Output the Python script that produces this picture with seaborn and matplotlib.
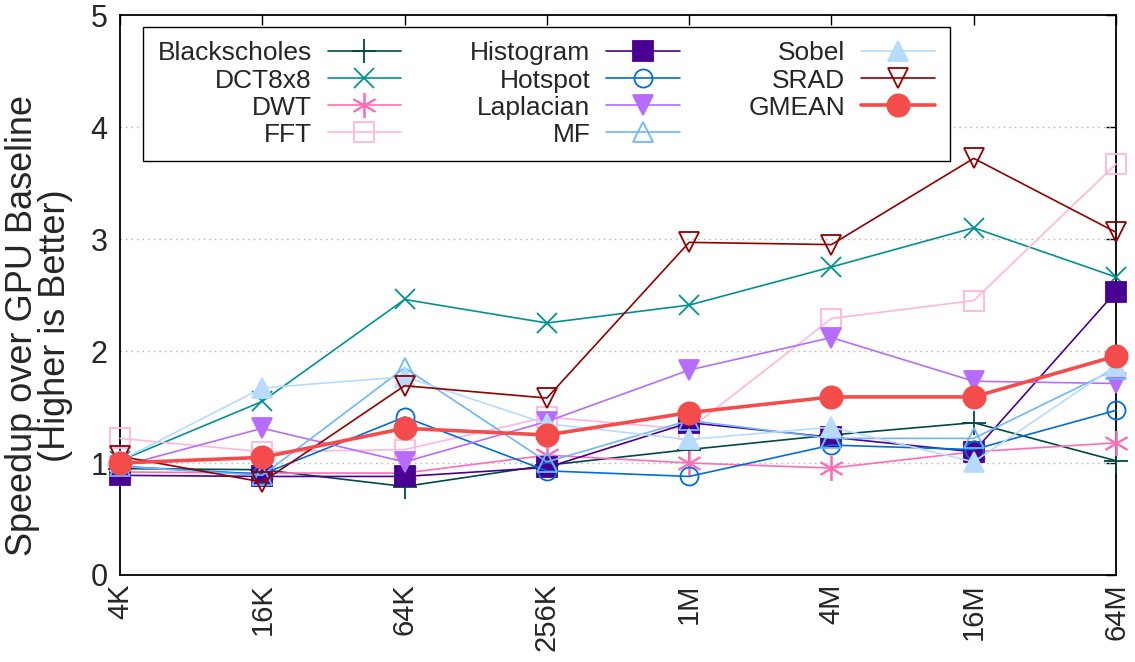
import numpy as np
import pandas as pd
import matplotlib
matplotlib.use("Agg")
import matplotlib.pyplot as plt
import seaborn as sns

# Input sizes on the x axis
sizes = ["4K", "16K", "64K", "256K", "1M", "4M", "16M", "64M"]

# Speedup of each benchmark over the GPU baseline
blackscholes = [0.95, 0.94, 0.79, 0.98, 1.12, 1.25, 1.36, 1.02]
dct8x8 = [1.02, 1.55, 2.46, 2.25, 2.41, 2.75, 3.10, 2.66]
dwt = [0.92, 0.91, 0.91, 1.07, 1.00, 0.955, 1.10, 1.18]
fft = [1.22, 1.10, 1.12, 1.41, 1.30, 2.29, 2.45, 3.67]
histogram = [0.89, 0.88, 0.88, 0.96, 1.36, 1.23, 1.10, 2.53]
hotspot = [0.97, 0.90, 1.41, 0.93, 0.88, 1.16, 1.12, 1.47]
laplacian = [0.97, 1.31, 1.01, 1.37, 1.83, 2.12, 1.73, 1.71]
mf = [0.97, 0.89, 1.85, 1.01, 1.38, 1.22, 1.22, 1.84]
sobel = [1.02, 1.67, 1.77, 1.35, 1.21, 1.32, 1.01, 1.87]
srad = [1.06, 0.83, 1.69, 1.58, 2.97, 2.95, 3.72, 3.06]
gmean = [1.00, 1.05, 1.31, 1.25, 1.45, 1.59, 1.59, 1.955]

names = ["Blackscholes", "DCT8x8", "DWT", "FFT", "Histogram", "Hotspot",
         "Laplacian", "MF", "Sobel", "SRAD", "GMEAN"]
series = [blackscholes, dct8x8, dwt, fft, histogram, hotspot,
          laplacian, mf, sobel, srad, gmean]

df = pd.DataFrame({
    "pos": np.tile(np.arange(len(sizes)), len(names)),
    "speedup": np.concatenate(series),
    "bench": np.repeat(names, len(sizes)),
})

# (color, marker, filled, markersize, linewidth)
styles = {
    "Blackscholes": ("#004949", "+", True, 17, 1.2),
    "DCT8x8": ("#009292", "x", True, 14, 1.2),
    "DWT": ("#ff6db6", (6, 2, 0), True, 18, 1.2),
    "FFT": ("#ffb6db", "s", False, 14, 1.2),
    "Histogram": ("#490092", "s", True, 14, 1.2),
    "Hotspot": ("#006ddb", "o", False, 13, 1.2),
    "Laplacian": ("#b66dff", "v", True, 14, 1.2),
    "MF": ("#6db6ff", "^", False, 14, 1.2),
    "Sobel": ("#b6dbff", "^", True, 14, 1.2),
    "SRAD": ("#920000", "v", False, 14, 1.2),
    "GMEAN": ("#f44b4b", "o", True, 16, 2.6),
}

sns.set_style("white")
plt.rcParams["font.family"] = ["Liberation Sans", "DejaVu Sans"]

fig = plt.figure(figsize=(11.35, 6.62), dpi=100)
ax = fig.add_axes([120 / 1135, 1 - 575 / 662, 996 / 1135, 560 / 662])

for i, name in enumerate(names):
    color, marker, filled, ms, lw = styles[name]
    sub = df[df["bench"] == name]
    sns.lineplot(
        data=sub, x="pos", y="speedup", ax=ax, color=color, marker=marker,
        markersize=ms, linewidth=lw, markeredgewidth=1.3,
        markerfacecolor=color if filled else "none", markeredgecolor=color,
        label=name, legend=False, errorbar=None, clip_on=False,
        zorder=3 + i,
    )

ax.set_xlim(0, len(sizes) - 1)
ax.set_ylim(0, 5)
ax.set_xticks(np.arange(len(sizes)))
ax.set_xticklabels(sizes, rotation=90, fontsize=21)
ax.set_yticks(range(0, 6))
ax.set_yticklabels([str(v) for v in range(0, 6)], fontsize=22)
ax.tick_params(axis="both", direction="in", length=7, width=1,
               top=True, right=True, color="black")
ax.tick_params(axis="y", pad=9)
ax.tick_params(axis="x", pad=6)

for y in range(1, 5):
    ax.axhline(y, color="#b0b0b0", linestyle=(0, (1, 3)), linewidth=1.0,
               zorder=1)

for sp in ax.spines.values():
    sp.set_color("black")
    sp.set_linewidth(1.3)

ax.set_xlabel("")
ax.set_ylabel("Speedup over GPU Baseline\n(Higher is Better)", fontsize=26,
              linespacing=0.95)
ax.yaxis.set_label_coords(-0.047, 0.445)

handles, labels = ax.get_legend_handles_labels()
leg = ax.legend(
    handles, labels, ncol=3, loc="upper left",
    bbox_to_anchor=(0.023, 0.9786), borderaxespad=0, fontsize=19,
    markerfirst=False, frameon=True, fancybox=False, framealpha=1,
    edgecolor="black", handlelength=2.8, handletextpad=0.6,
    columnspacing=2.6, labelspacing=0.115, borderpad=0.55,
)
leg.get_frame().set_linewidth(1.0)
leg.set_zorder(20)

fig.savefig("out.png", dpi=100)
